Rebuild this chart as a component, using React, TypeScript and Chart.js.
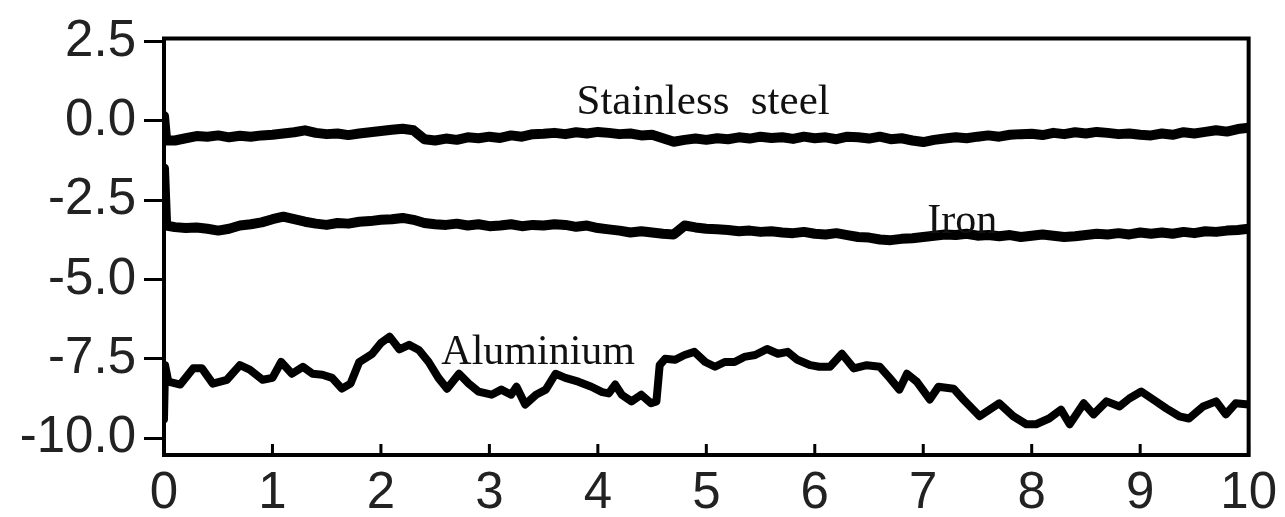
import React, { useEffect, useRef } from 'react';
import { Chart, registerables } from 'chart.js';

Chart.register(...registerables);

// ---- Axis ranges & ticks ----
const X_MIN = 0;
const X_MAX = 10;
const Y_MIN = -10.53;
const Y_MAX = 2.59;
const xTickValues = [0, 1, 2, 3, 4, 5, 6, 7, 8, 9, 10];
const xTickLabels = ['0', '1', '2', '3', '4', '5', '6', '7', '8', '9', '10'];
const yTickValues = [2.5, 0, -2.5, -5, -7.5, -10];
const yTickLabels = ['2.5', '0.0', '-2.5', '-5.0', '-7.5', '-10.0'];

// ---- Series: x positions (start transient + 0.1 grid) ----
const gridX = [0, 0.02].concat(Array.from({ length: 100 }, (_, i) => (i + 1) / 10));

const stainlessValues = [
  0.15, -0.62,
  -0.62, -0.55, -0.48, -0.50, -0.46, -0.52, -0.47, -0.50, -0.46, -0.44,
  -0.40, -0.36, -0.30, -0.38, -0.42, -0.40, -0.45, -0.40, -0.36, -0.32,
  -0.28, -0.25, -0.30, -0.58, -0.62, -0.56, -0.60, -0.52, -0.55, -0.50,
  -0.54, -0.46, -0.50, -0.42, -0.41, -0.38, -0.42, -0.36, -0.40, -0.35,
  -0.38, -0.42, -0.40, -0.46, -0.44, -0.55, -0.66, -0.60, -0.56, -0.60,
  -0.55, -0.58, -0.52, -0.56, -0.50, -0.54, -0.52, -0.57, -0.50, -0.55,
  -0.52, -0.58, -0.50, -0.52, -0.56, -0.50, -0.58, -0.55, -0.62, -0.67,
  -0.60, -0.56, -0.52, -0.55, -0.50, -0.46, -0.50, -0.44, -0.42, -0.41,
  -0.45, -0.38, -0.42, -0.36, -0.40, -0.35, -0.38, -0.42, -0.40, -0.44,
  -0.46, -0.40, -0.44, -0.36, -0.40, -0.35, -0.30, -0.34, -0.26, -0.22,
];

const ironValues = [
  -1.5, -3.3,
  -3.35, -3.38, -3.36, -3.40, -3.46, -3.40, -3.30, -3.26, -3.20, -3.10,
  -3.02, -3.10, -3.18, -3.24, -3.28, -3.22, -3.24, -3.18, -3.16, -3.12,
  -3.10, -3.06, -3.12, -3.22, -3.26, -3.28, -3.24, -3.30, -3.26, -3.32,
  -3.30, -3.26, -3.32, -3.28, -3.30, -3.26, -3.28, -3.34, -3.30, -3.38,
  -3.42, -3.46, -3.52, -3.48, -3.52, -3.56, -3.58, -3.30, -3.36, -3.40,
  -3.42, -3.44, -3.48, -3.46, -3.50, -3.48, -3.52, -3.54, -3.50, -3.56,
  -3.58, -3.54, -3.60, -3.66, -3.68, -3.74, -3.76, -3.72, -3.70, -3.66,
  -3.62, -3.58, -3.60, -3.56, -3.62, -3.60, -3.64, -3.60, -3.66, -3.62,
  -3.58, -3.62, -3.66, -3.64, -3.60, -3.56, -3.58, -3.54, -3.58, -3.52,
  -3.56, -3.52, -3.56, -3.50, -3.54, -3.48, -3.50, -3.46, -3.44, -3.40,
];

const aluminiumX = [
  0, 0.01, 0.04, 0.15, 0.27, 0.35, 0.45, 0.58, 0.70, 0.79, 0.91, 1.00, 1.08, 1.18, 1.28, 1.37,
  1.46, 1.55, 1.64, 1.72, 1.80, 1.92, 2.00, 2.08, 2.17, 2.26, 2.35, 2.44, 2.53, 2.61, 2.72,
  2.81, 2.90, 3.02, 3.11, 3.20, 3.25, 3.33, 3.43, 3.52, 3.61, 3.70, 3.82, 3.94, 4.04, 4.10,
  4.16, 4.22, 4.31, 4.40, 4.49, 4.54, 4.57, 4.62, 4.71, 4.80, 4.89, 4.99, 5.08, 5.17, 5.26,
  5.35, 5.45, 5.56, 5.66, 5.75, 5.84, 5.96, 6.04, 6.14, 6.25, 6.36, 6.48, 6.60, 6.69, 6.78,
  6.85, 6.94, 7.06, 7.14, 7.28, 7.37, 7.52, 7.70, 7.83, 7.95, 8.04, 8.16, 8.27, 8.35, 8.48,
  8.57, 8.69, 8.81, 8.90, 9.01, 9.12, 9.24, 9.36, 9.45, 9.58, 9.70, 9.79, 9.88, 10.0,
];
const aluminiumValues = [
  -9.4, -7.7, -8.22, -8.31, -7.8, -7.8, -8.28, -8.16, -7.7, -7.84, -8.16, -8.1, -7.6, -7.97, -7.75, -7.97,
  -8.0, -8.1, -8.44, -8.28, -7.6, -7.34, -7.0, -6.8, -7.2, -7.06, -7.22, -7.6, -8.1, -8.44, -7.97,
  -8.28, -8.53, -8.63, -8.47, -8.63, -8.38, -8.94, -8.63, -8.47, -7.97, -8.1, -8.22, -8.38, -8.55, -8.59,
  -8.31, -8.63, -8.84, -8.63, -8.9, -8.84, -7.7, -7.5, -7.53, -7.38, -7.28, -7.6, -7.75, -7.6, -7.6,
  -7.44, -7.38, -7.19, -7.34, -7.28, -7.53, -7.7, -7.75, -7.75, -7.34, -7.8, -7.7, -7.75, -8.1, -8.47,
  -7.97, -8.22, -8.78, -8.38, -8.44, -8.78, -9.31, -8.9, -9.31, -9.56, -9.56, -9.38, -9.1, -9.56, -8.9,
  -9.25, -8.84, -9.0, -8.75, -8.53, -8.78, -9.06, -9.31, -9.38, -9.0, -8.84, -9.25, -8.9, -8.94,
];

// ---- Annotation labels (data coordinates) ----
const labelTexts = ['Stainless  steel', 'Iron', 'Aluminium'];
const labelX = [4.97, 7.36, 3.45];
const labelY = [0.22, -3.53, -7.66];

const toPoints = (xs: number[], ys: number[]) => ys.map((y, i) => ({ x: xs[i], y }));

const boxPlugin = {
  id: 'boxAndTicks',
  afterDraw(chart: any) {
    const { ctx, chartArea, scales } = chart;
    ctx.save();
    ctx.strokeStyle = '#000';
    ctx.lineWidth = 4;
    ctx.beginPath();
    ctx.moveTo(chartArea.left - 2, chartArea.top);
    ctx.lineTo(chartArea.right, chartArea.top);
    ctx.lineTo(chartArea.right, chartArea.bottom + 2);
    ctx.stroke();
    // inward x ticks
    ctx.lineWidth = 3;
    const xs = scales.x;
    xs.ticks.forEach((t: any) => {
      const px = xs.getPixelForValue(t.value);
      ctx.beginPath();
      ctx.moveTo(px, chartArea.bottom);
      ctx.lineTo(px, chartArea.bottom - 11);
      ctx.stroke();
    });
    ctx.restore();
  },
  afterDatasetsDraw(chart: any) {
    const { ctx, scales } = chart;
    ctx.save();
    ctx.fillStyle = '#111';
    ctx.textAlign = 'center';
    ctx.textBaseline = 'alphabetic';
    labelTexts.forEach((t, i) => {
      ctx.font = (i === 0 ? '43px' : '42px') + ' "Liberation Serif", "Times New Roman", serif';
      ctx.fillText(t, scales.x.getPixelForValue(labelX[i]), scales.y.getPixelForValue(labelY[i]));
    });
    ctx.restore();
  },
};

export default function App() {
  const ref = useRef<HTMLCanvasElement>(null);
  useEffect(() => {
    if (!ref.current) return;
    const lineStyle = {
      borderColor: '#000',
      backgroundColor: '#000',
      pointRadius: 0,
      tension: 0,
      fill: false,
      borderJoinStyle: 'round' as const,
      borderCapStyle: 'round' as const,
    };
    const tickFont = { family: '"Liberation Sans", Arial, sans-serif', size: 51 };
    const chart = new Chart(ref.current, {
      type: 'line',
      data: {
        datasets: [
          { label: 'Stainless steel', data: toPoints(gridX, stainlessValues), borderWidth: 10, ...lineStyle },
          { label: 'Iron', data: toPoints(gridX, ironValues), borderWidth: 10, ...lineStyle },
          { label: 'Aluminium', data: toPoints(aluminiumX, aluminiumValues), borderWidth: 8, ...lineStyle },
        ],
      },
      options: {
        animation: false,
        responsive: false,
        devicePixelRatio: 1,
        parsing: false,
        normalized: true,
        layout: { padding: { top: 35, right: 32, left: 0, bottom: 0 } },
        plugins: { legend: { display: false }, tooltip: { enabled: false } },
        scales: {
          x: {
            type: 'linear',
            min: X_MIN,
            max: X_MAX,
            afterBuildTicks: (s: any) => {
              s.ticks = xTickValues.map((v) => ({ value: v }));
            },
            afterFit: (s: any) => {
              s.height = 62;
            },
            grid: { display: true, drawOnChartArea: false, drawTicks: false },
            border: { display: true, color: '#000', width: 4 },
            ticks: {
              color: '#222',
              padding: 8,
              maxRotation: 0,
              autoSkip: false,
              font: tickFont,
              callback: (v: any) => xTickLabels[xTickValues.indexOf(Number(v))] ?? '',
            },
          },
          y: {
            type: 'linear',
            min: Y_MIN,
            max: Y_MAX,
            afterBuildTicks: (s: any) => {
              s.ticks = yTickValues.map((v) => ({ value: v }));
            },
            afterFit: (s: any) => {
              s.width = 164;
            },
            grid: { display: true, drawOnChartArea: false, drawTicks: true, tickLength: 20, tickWidth: 3, tickColor: '#000' },
            border: { display: true, color: '#000', width: 4 },
            ticks: {
              color: '#222',
              padding: 8,
              autoSkip: false,
              font: tickFont,
              callback: (v: any) => yTickLabels[yTickValues.indexOf(Number(v))] ?? '',
            },
          },
        },
      },
      plugins: [boxPlugin],
    });
    return () => chart.destroy();
  }, []);
  return (
    <div style={{ position: 'fixed', left: 0, top: 0, width: 1285, height: 517, background: '#fff' }}>
      <canvas ref={ref} width={1285} height={517} style={{ display: 'block' }} />
    </div>
  );
}
